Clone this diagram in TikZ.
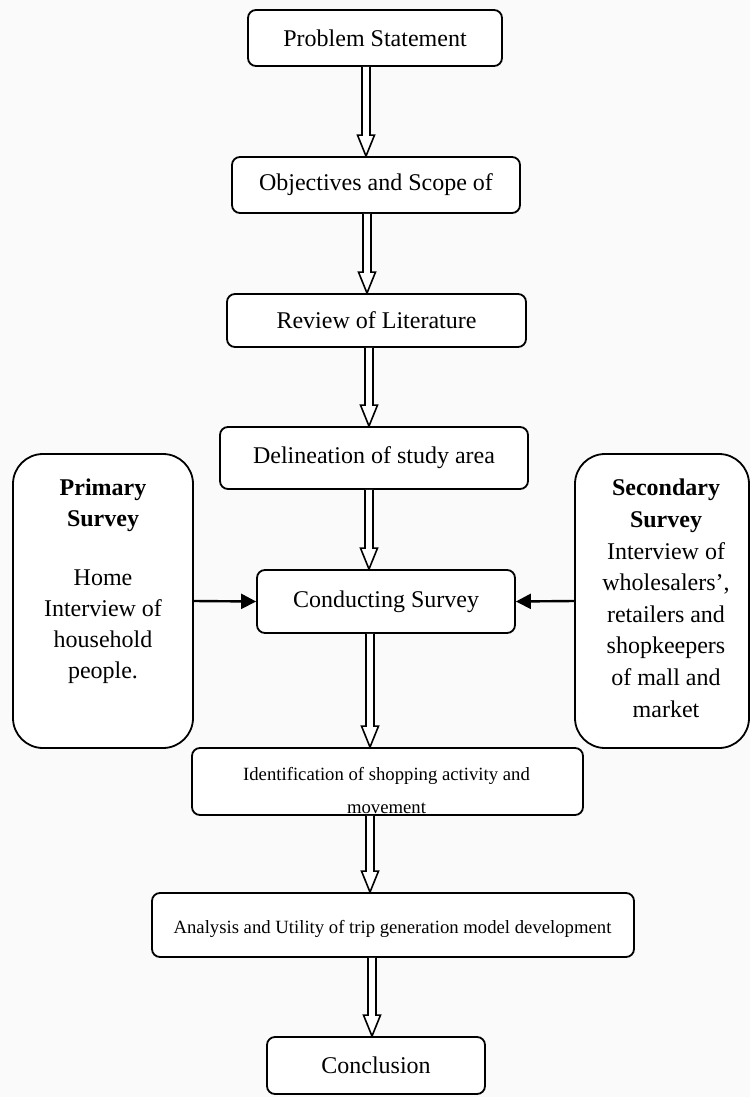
\documentclass[tikz,border=0pt]{standalone}
\usepackage{fontspec}
\setmainfont{Liberation Serif}
\usetikzlibrary{calc,arrows.meta}
\definecolor{bgc}{HTML}{FAFAFA}
\tikzset{
 box/.style={draw=black, line width=1.8pt, rounded corners=8pt, fill=white, inner sep=0pt, font=\fontsize{24}{31}\selectfont},
 sidebox/.style={box, rounded corners=30pt},
 harr/.style={draw=black, fill=white, line width=1.6pt, line join=miter},
 sarr/.style={line width=2.4pt, -{Triangle[length=15pt,width=15pt]}},
 bigtxt/.style={inner sep=0pt, align=center, font=\fontsize{24}{31}\selectfont},
 smalltxt/.style={inner sep=0pt, align=center, font=\fontsize{18.7}{33}\selectfont},
}
\newcommand\harrow[3]{\path[harr] let \p1=(#1.south), \p2=(#2.north) in
  (#3pt-4pt,\y1) -- (#3pt-4pt,\y2+21pt) -- (#3pt-8.5pt,\y2+21pt) -- (#3pt,\y2)
  -- (#3pt+8.5pt,\y2+21pt) -- (#3pt+4pt,\y2+21pt) -- (#3pt+4pt,\y1);}
\begin{document}
\begin{tikzpicture}[x=1pt,y=-1pt]
\useasboundingbox (0,0) rectangle (750,1097);
\fill[bgc] (0,0) rectangle (750,1097);

\node[box, minimum width=254pt, minimum height=56pt] (ps) at (375,38) {Problem Statement};
\node[box, minimum width=288pt, minimum height=56pt] (obj) at (376,185) {Objectives and Scope of};
\node[box, minimum width=299pt, minimum height=53pt] (rev) at (376.5,320.5) {Review of Literature};
\node[box, minimum width=308pt, minimum height=62pt] (del) at (374,458) {Delineation of study area};
\node[box, minimum width=258pt, minimum height=63pt] (con) at (386,601.5) {Conducting Survey};

\node[sidebox, minimum width=180pt, minimum height=294pt] (prim) at (103,601) {};
\node[bigtxt, anchor=north] (primt) at (103,479) {\textbf{Primary}\\\textbf{Survey}\\[28pt]Home\\Interview of\\household\\people.};

\node[sidebox, minimum width=174pt, minimum height=294pt] (sec) at (662,601) {};
\node[bigtxt, anchor=north, font=\fontsize{24}{31.6}\selectfont] (sect) at (666,479) {\textbf{Secondary}\\\textbf{Survey}\\Interview of\\wholesalers’,\\retailers and\\shopkeepers\\of mall and\\market};

\node[box, minimum width=391pt, minimum height=67pt] (idn) at (387.5,781.5) {};
\node[smalltxt, anchor=north] (idnt) at (386.5,767) {Identification of shopping activity and\\movement};

\node[box, minimum width=482pt, minimum height=64pt] (ana) at (393,925) {};
\node[smalltxt] (anat) at (392.5,929) {Analysis and Utility of trip generation model development};

\node[box, minimum width=218pt, minimum height=57pt] (concl) at (376,1065.5) {Conclusion};

\harrow{ps}{obj}{366}
\harrow{obj}{rev}{367}
\harrow{rev}{del}{369}
\harrow{del}{con}{369}
\harrow{con}{idn}{370}
\harrow{idn}{ana}{370}
\harrow{ana}{concl}{372}

\draw[sarr] (prim.east) -- (con.west);
\draw[sarr] (sec.west) -- (con.east);
\end{tikzpicture}
\end{document}
